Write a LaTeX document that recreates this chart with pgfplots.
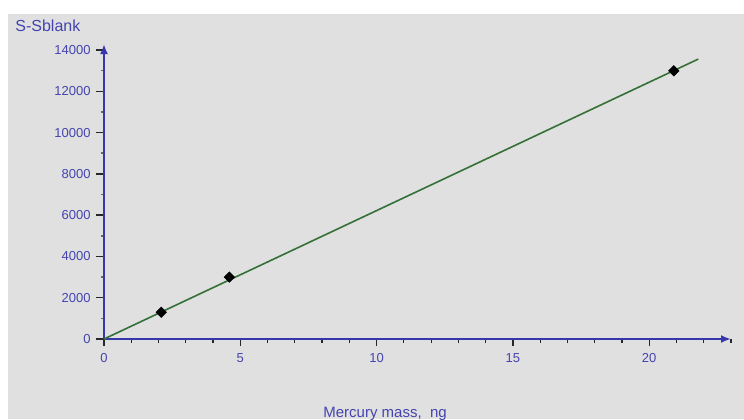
\documentclass[border=0pt]{standalone}
\usepackage{pgfplots}
\pgfplotsset{compat=1.18}
\usepackage{fontspec}
\setmainfont{Liberation Sans}
\usetikzlibrary{arrows.meta}
\definecolor{bg}{RGB}{224,224,224}
\definecolor{txtblue}{RGB}{68,68,176}
\definecolor{axblue}{RGB}{55,55,172}
\definecolor{lgreen}{RGB}{52,112,55}
\definecolor{tickc}{RGB}{40,40,40}
\begin{document}
\begin{tikzpicture}
\clip (0,0) rectangle (372pt,209.5pt);
\fill[white] (0,0) rectangle (372pt,209.5pt);
\fill[bg] (4pt,0) rectangle (372pt,202.5pt);
\begin{axis}[
  at={(52pt,40pt)}, anchor=south west,
  scale only axis, width=313.5pt, height=147.5pt,
  xmin=0, xmax=23, ymin=0, ymax=14290,
  axis lines=left,
  axis line style={draw=axblue, line width=1pt, -{Latex[length=5pt,width=4pt]}},
  xtick={0,5,10,15,20},
  minor xtick={1,2,3,4,6,7,8,9,11,12,13,14,16,17,18,19,21,22,23},
  ytick={0,2000,4000,6000,8000,10000,12000,14000},
  minor ytick={1000,3000,5000,7000,9000,11000,13000},
  tick align=outside,
  major tick length=5.5pt, minor tick length=4pt,
  major x tick style={draw=tickc, line width=0.6pt, dash pattern=on 0pt off 2pt on 3.5pt},
  minor x tick style={draw=tickc, line width=0.6pt, dash pattern=on 0pt off 2pt on 2pt},
  major y tick style={draw=tickc, line width=0.7pt, dash pattern=on 0pt off 1.5pt on 4pt},
  minor y tick style={draw=tickc!70, line width=0.8pt, dash pattern=on 0pt off 2.3pt on 1pt off 5pt},
  ticklabel style={font=\fontsize{6.5}{7}\selectfont, text=txtblue},
  yticklabel style={inner sep=1pt},
  xticklabel style={inner sep=1.5pt},
  /pgf/number format/assume math mode=true,
  /pgf/number format/1000 sep={},
  scaled y ticks=false,
  clip=false,
]
\addplot[lgreen, line width=0.8pt, no marks] coordinates {(0,0) (21.8,13560)};
\addplot[only marks, mark=square*, mark size=1.8pt, mark options={rotate=45}, black] coordinates {(2.1,1300) (4.6,3000) (20.9,12990)};
\end{axis}
\node[anchor=west, inner sep=0, text=txtblue, font=\fontsize{8}{9}\selectfont] at (7.5pt,196.5pt) {S-Sblank};
\node[anchor=base west, inner sep=0, text=txtblue, font=\fontsize{7.5}{9}\selectfont] at (161.5pt,1pt) {Mercury mass,\ \ ng};
\end{tikzpicture}
\end{document}
